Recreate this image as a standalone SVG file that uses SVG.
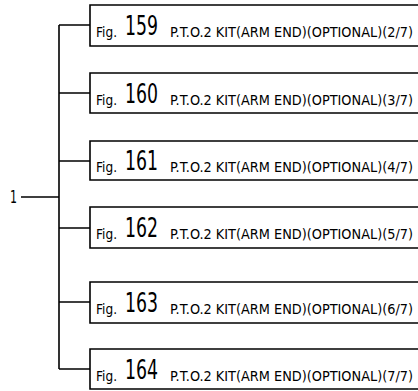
<svg xmlns="http://www.w3.org/2000/svg" width="418" height="391" viewBox="0 0 418 391">
<style>
.box{fill:none;stroke:#000;stroke-width:1.6}
.ln{fill:none;stroke:#000;stroke-width:1.6}
text{font-family:"DejaVu Sans Condensed","DejaVu Sans","Liberation Sans",sans-serif;font-stretch:condensed;fill:#000}
.fig{font-size:14px}
.num{font-size:26px}
.ttl{font-size:14.5px}
.lbl{font-size:17px}
</style>
<g id="connectors">
<path class="ln" d="M59,25 V369 M59,25 H90 M59,93 H90 M59,161 H90 M59,228 H90 M59,302 H90 M59,369 H90 M21,197 H59"/>
</g>
<g id="root"><text class="lbl" x="10" y="203" textLength="7" lengthAdjust="spacingAndGlyphs">1</text></g>
<g id="n159"><path class="box" d="M418,5 H90 V46 H418"/>
<text class="fig" x="96" y="37" textLength="21" lengthAdjust="spacingAndGlyphs">Fig.</text>
<text class="num" x="125" y="35" textLength="33" lengthAdjust="spacingAndGlyphs">159</text>
<text class="ttl" x="170" y="37" textLength="243" lengthAdjust="spacingAndGlyphs">P.T.O.2 KIT(ARM END)(OPTIONAL)(2/7)</text></g>
<g id="n160"><path class="box" d="M418,73 H90 V113 H418"/>
<text class="fig" x="96" y="105" textLength="21" lengthAdjust="spacingAndGlyphs">Fig.</text>
<text class="num" x="125" y="103" textLength="33" lengthAdjust="spacingAndGlyphs">160</text>
<text class="ttl" x="170" y="105" textLength="243" lengthAdjust="spacingAndGlyphs">P.T.O.2 KIT(ARM END)(OPTIONAL)(3/7)</text></g>
<g id="n161"><path class="box" d="M418,141 H90 V180 H418"/>
<text class="fig" x="96" y="172" textLength="21" lengthAdjust="spacingAndGlyphs">Fig.</text>
<text class="num" x="125" y="170" textLength="33" lengthAdjust="spacingAndGlyphs">161</text>
<text class="ttl" x="170" y="172" textLength="243" lengthAdjust="spacingAndGlyphs">P.T.O.2 KIT(ARM END)(OPTIONAL)(4/7)</text></g>
<g id="n162"><path class="box" d="M418,207 H90 V248 H418"/>
<text class="fig" x="96" y="239" textLength="21" lengthAdjust="spacingAndGlyphs">Fig.</text>
<text class="num" x="125" y="237" textLength="33" lengthAdjust="spacingAndGlyphs">162</text>
<text class="ttl" x="170" y="239" textLength="243" lengthAdjust="spacingAndGlyphs">P.T.O.2 KIT(ARM END)(OPTIONAL)(5/7)</text></g>
<g id="n163"><path class="box" d="M418,282 H90 V323 H418"/>
<text class="fig" x="96" y="314" textLength="21" lengthAdjust="spacingAndGlyphs">Fig.</text>
<text class="num" x="125" y="312" textLength="33" lengthAdjust="spacingAndGlyphs">163</text>
<text class="ttl" x="170" y="314" textLength="243" lengthAdjust="spacingAndGlyphs">P.T.O.2 KIT(ARM END)(OPTIONAL)(6/7)</text></g>
<g id="n164"><path class="box" d="M418,349 H90 V389 H418"/>
<text class="fig" x="96" y="381" textLength="21" lengthAdjust="spacingAndGlyphs">Fig.</text>
<text class="num" x="125" y="379" textLength="33" lengthAdjust="spacingAndGlyphs">164</text>
<text class="ttl" x="170" y="381" textLength="243" lengthAdjust="spacingAndGlyphs">P.T.O.2 KIT(ARM END)(OPTIONAL)(7/7)</text></g>
</svg>
